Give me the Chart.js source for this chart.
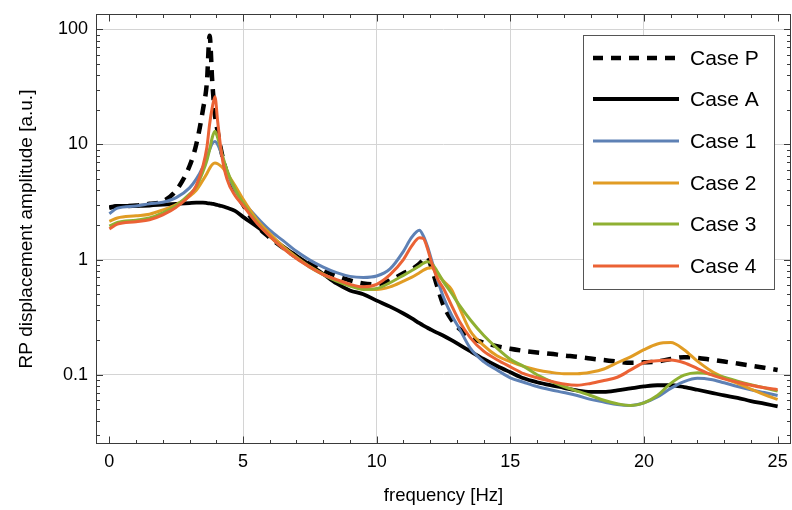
<!DOCTYPE html>
<html>
<head>
<meta charset="utf-8">
<script src="https://cdn.jsdelivr.net/npm/chart.js@4.4.1/dist/chart.umd.min.js"></script>
<style>
  html, body { margin: 0; padding: 0; background: #fff; }
  canvas { display: block; }
</style>
</head>
<body>
<canvas id="respChart" width="792" height="510"></canvas>
<script>
// ================= DATA =================
// frequency axis [Hz], shared by all cases
const freq = [0, 0.3, 1, 1.5, 2, 2.5, 3, 3.25, 3.5, 3.65,
  3.75, 3.85, 3.95, 4.05, 4.2, 4.4, 4.7, 5, 5.5, 6,
  6.5, 7, 7.5, 8, 8.5, 9, 9.5, 10, 10.5, 11,
  11.3, 11.6, 11.75, 11.9, 12.05, 12.25, 12.5, 12.8, 13.1, 13.5,
  14, 14.5, 15, 15.5, 16, 16.5, 17, 17.5, 18, 18.5,
  19, 19.5, 20, 20.5, 21, 21.5, 22, 22.5, 23, 23.5, 24, 24.5, 25];

// RP displacement amplitude [a.u.]
const casePAmp = [2.85, 2.9, 2.95, 3.05, 3.2, 4.0, 6.5, 10, 20, 35,
  88, 35, 18, 13, 8.5, 5.6, 4.0, 3.0, 2.0, 1.55,
  1.27, 1.05, 0.92, 0.8, 0.72, 0.66, 0.62, 0.61, 0.66, 0.76,
  0.82, 0.92, 1.0, 1.05, 0.85, 0.6, 0.4, 0.3, 0.25, 0.21,
  0.19, 0.177, 0.168, 0.161, 0.156, 0.152, 0.147, 0.143, 0.138, 0.134,
  0.13, 0.127, 0.128, 0.13, 0.137, 0.142, 0.14, 0.135, 0.13, 0.125, 0.12, 0.115, 0.11];

const caseAAmp = [2.8, 2.92, 2.93, 2.95, 3.0, 3.05, 3.1, 3.12, 3.12, 3.1,
  3.08, 3.05, 3.02, 2.98, 2.92, 2.82, 2.65, 2.35, 1.95, 1.6,
  1.3, 1.08, 0.9, 0.75, 0.62, 0.54, 0.5, 0.44, 0.39, 0.34,
  0.31, 0.28, 0.267, 0.256, 0.245, 0.232, 0.218, 0.2, 0.182, 0.16,
  0.137, 0.119, 0.105, 0.093, 0.086, 0.081, 0.077, 0.073, 0.071, 0.071,
  0.073, 0.076, 0.079, 0.081, 0.081, 0.078, 0.074, 0.07, 0.066, 0.063, 0.059, 0.056, 0.053];

const case1Amp = [2.5, 2.8, 2.92, 3.05, 3.15, 3.45, 4.2, 5.0, 6.4, 7.8,
  9.0, 10.2, 10.6, 10.0, 8.2, 5.8, 4.0, 3.2, 2.35, 1.8,
  1.46, 1.18, 0.99, 0.86, 0.77, 0.715, 0.7, 0.72, 0.83, 1.18,
  1.55, 1.8, 1.6, 1.3, 1.0, 0.7, 0.47, 0.33, 0.25, 0.17,
  0.13, 0.11, 0.094, 0.086, 0.079, 0.074, 0.07, 0.066, 0.061, 0.058,
  0.055, 0.054, 0.057, 0.064, 0.076, 0.087, 0.093, 0.091, 0.085, 0.079, 0.074, 0.07, 0.066];

const case2Amp = [2.15, 2.3, 2.4, 2.48, 2.7, 3.0, 3.55, 4.0, 4.9, 5.6,
  6.2, 6.7, 6.9, 6.8, 6.4, 5.6, 4.4, 3.35, 2.25, 1.68,
  1.3, 1.05, 0.87, 0.75, 0.66, 0.6, 0.56, 0.55, 0.58, 0.65,
  0.7, 0.77, 0.81, 0.84, 0.85, 0.76, 0.65, 0.55, 0.38, 0.24,
  0.18, 0.146, 0.13, 0.118, 0.11, 0.105, 0.102, 0.102, 0.105, 0.112,
  0.127, 0.143, 0.165, 0.185, 0.19, 0.165, 0.131, 0.108, 0.094, 0.084, 0.075, 0.067, 0.061];

const case3Amp = [1.95, 2.1, 2.2, 2.3, 2.55, 2.95, 3.7, 4.3, 5.8, 7.3,
  9.0, 11.5, 13.0, 11.5, 8.5, 6.0, 4.1, 3.1, 2.15, 1.6,
  1.26, 1.03, 0.86, 0.74, 0.65, 0.59, 0.55, 0.56, 0.63, 0.73,
  0.8, 0.88, 0.93, 0.96, 0.93, 0.8, 0.64, 0.51, 0.4, 0.3,
  0.22, 0.17, 0.136, 0.118, 0.1, 0.088, 0.079, 0.072, 0.066, 0.06,
  0.056, 0.054, 0.057, 0.066, 0.084, 0.099, 0.104, 0.101, 0.095, 0.088, 0.082, 0.077, 0.072];

const case4Amp = [1.85, 2.03, 2.13, 2.22, 2.45, 2.85, 3.6, 4.4, 6.5, 9.5,
  15, 21, 26, 16, 8.2, 5.0, 3.6, 2.95, 2.1, 1.6,
  1.25, 1.02, 0.86, 0.74, 0.67, 0.61, 0.58, 0.61, 0.74, 1.0,
  1.3, 1.55, 1.52, 1.25, 0.95, 0.7, 0.56, 0.4, 0.29, 0.21,
  0.16, 0.135, 0.117, 0.102, 0.094, 0.088, 0.083, 0.081, 0.084, 0.089,
  0.095, 0.11, 0.127, 0.132, 0.134, 0.127, 0.113, 0.1, 0.092, 0.086, 0.081, 0.077, 0.074];

const seriesNames = ['Case P', 'Case A', 'Case 1', 'Case 2', 'Case 3', 'Case 4'];
const seriesData = [casePAmp, caseAAmp, case1Amp, case2Amp, case3Amp, case4Amp];
const seriesColors = ['#000000', '#000000', '#5E81B5', '#E19C24', '#8FB032', '#EB6235'];

// axis ticks
const xMajor = [0, 5, 10, 15, 20, 25];
const xLabels = ['0', '5', '10', '15', '20', '25'];
const xGrid = [5, 10, 15, 20];
const yMajor = [0.1, 1, 10, 100];
const yLabels = ['0.1', '1', '10', '100'];

const X_MIN = -0.5, X_MAX = 25.5;
const Y_MIN = 0.025, Y_MAX = 136;

// ================= STYLE =================
const FONT = 'Liberation Sans';
const FRAME = '#3a3a3a';
const GRID = '#d4d4d4';

function lineStyle(i) {
    if (i === 0) return { borderWidth: 4.5, borderDash: [11, 8] };
    if (i === 1) return { borderWidth: 3.8, borderDash: [] };
    return { borderWidth: 3, borderDash: [] };
}

// ================= PLUGINS =================
const framePlugin = {
    id: 'frameTicks',
    afterDatasetsDraw(chart) {
        const { ctx, chartArea: a, scales: { x, y } } = chart;
        ctx.save();
        ctx.strokeStyle = FRAME;
        ctx.lineWidth = 1;
        ctx.beginPath();

        x.ticks.forEach(t => {
            const px = Math.round(x.getPixelForValue(t.value)) + 0.5;
            const len = xMajor.includes(t.value) ? 7.5 : 4;
            ctx.moveTo(px, a.bottom); ctx.lineTo(px, a.bottom - len);
            ctx.moveTo(px, a.top); ctx.lineTo(px, a.top + len);
        });

        y.ticks.forEach(t => {
            const py = Math.round(y.getPixelForValue(t.value)) + 0.5;
            const len = yMajor.includes(t.value) ? 7 : 4;
            ctx.moveTo(a.left, py); ctx.lineTo(a.left + len, py);
            ctx.moveTo(a.right, py); ctx.lineTo(a.right - len, py);
        });
        ctx.stroke();

        ctx.strokeRect(a.left + 0.5, a.top + 0.5, a.right - a.left - 1, a.bottom - a.top - 1);
        ctx.restore();
    }
};

const legendPlugin = {
    id: 'boxLegend',
    afterDraw(chart) {
        const { ctx, chartArea: a } = chart;
        const left = a.right - 208, top = a.top + 21;
        const w = 191, h = 254, rowH = 41.7;

        ctx.save();
        ctx.fillStyle = '#ffffff';
        ctx.fillRect(left, top, w, h);
        ctx.strokeStyle = '#555555';
        ctx.lineWidth = 1;
        ctx.strokeRect(left + 0.5, top + 0.5, w, h);

        ctx.font = '21px "' + FONT + '"';
        ctx.textBaseline = 'middle';
        ctx.textAlign = 'left';

        chart.data.datasets.forEach((ds, i) => {
            const cy = Math.round(top + 22.5 + i * rowH);
            ctx.strokeStyle = ds.borderColor;
            ctx.lineWidth = ds.borderWidth;
            ctx.setLineDash(i === 0 ? [10, 8] : []);
            ctx.beginPath();
            ctx.moveTo(left + 10, cy);
            ctx.lineTo(left + 96, cy);
            ctx.stroke();

            ctx.fillStyle = '#000000';
            ctx.fillText(ds.label, left + 107, cy + 1);
        });
        ctx.restore();
    }
};

// ================= CHART =================
function buildTicksX(scale) {
    const ticks = [];
    for (let v = 0; v <= 25; v++) ticks.push({ value: v });
    scale.ticks = ticks;
}

function buildTicksY(scale) {
    const ticks = [];
    for (let k = -2; k <= 2; k++) {
        for (let m = 1; m <= 9; m++) {
            const v = m === 1 ? Math.pow(10, k) : m * Math.pow(10, k);
            if (v >= Y_MIN && v <= Y_MAX) ticks.push({ value: v });
        }
    }
    scale.ticks = ticks;
}

const datasets = seriesNames.map((name, i) => Object.assign({
    label: name,
    data: freq.map((f, j) => ({ x: f, y: seriesData[i][j] })),
    borderColor: seriesColors[i],
    backgroundColor: seriesColors[i],
    pointRadius: 0,
    fill: false,
    cubicInterpolationMode: 'monotone',
    borderCapStyle: 'butt',
    borderJoinStyle: 'round',
    order: seriesNames.length - i
}, lineStyle(i)));

new Chart(document.getElementById('respChart'), {
    type: 'line',
    data: { datasets },
    options: {
        responsive: false,
        animation: false,
        devicePixelRatio: 1,
        layout: { padding: { left: 0, right: 1, top: 14, bottom: 0 } },
        plugins: {
            legend: { display: false },
            tooltip: { enabled: false }
        },
        scales: {
            x: {
                type: 'linear',
                min: X_MIN,
                max: X_MAX,
                afterBuildTicks: buildTicksX,
                afterFit: s => { s.height = 66; s.paddingLeft = 0; s.paddingRight = 0; },
                border: { display: false },
                grid: {
                    drawTicks: false,
                    lineWidth: 1,
                    color: c => (c.tick && xGrid.includes(c.tick.value)) ? GRID : 'rgba(0,0,0,0)'
                },
                ticks: {
                    autoSkip: false,
                    maxRotation: 0,
                    padding: 7,
                    color: '#000',
                    font: { family: FONT, size: 18 },
                    callback: v => {
                        const i = xMajor.indexOf(v);
                        return i >= 0 ? xLabels[i] : '';
                    }
                },
                title: {
                    display: true,
                    text: 'frequency [Hz]',
                    color: '#000',
                    font: { family: FONT, size: 18.5 },
                    padding: { top: 0, bottom: 3 }
                }
            },
            y: {
                type: 'logarithmic',
                min: Y_MIN,
                max: Y_MAX,
                afterBuildTicks: buildTicksY,
                afterFit: s => { s.width = 96; s.paddingTop = 0; s.paddingBottom = 0; },
                border: { display: false },
                grid: {
                    drawTicks: false,
                    lineWidth: 1,
                    color: c => (c.tick && yMajor.includes(c.tick.value)) ? GRID : 'rgba(0,0,0,0)'
                },
                ticks: {
                    autoSkip: false,
                    padding: 8,
                    color: '#000',
                    font: { family: FONT, size: 18 },
                    callback: v => {
                        const i = yMajor.indexOf(v);
                        return i >= 0 ? yLabels[i] : '';
                    }
                },
                title: {
                    display: true,
                    text: 'RP displacement amplitude [a.u.]',
                    color: '#000',
                    font: { family: FONT, size: 19 },
                    padding: { top: 15, bottom: 0 }
                }
            }
        }
    },
    plugins: [framePlugin, legendPlugin]
});
</script>
</body>
</html>
